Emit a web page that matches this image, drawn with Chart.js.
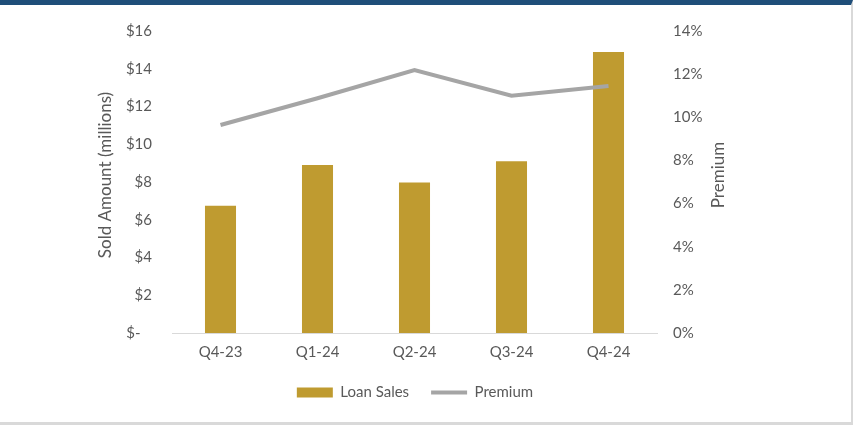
<!DOCTYPE html>
<html>
<head>
<meta charset="utf-8">
<script src="https://cdn.jsdelivr.net/npm/chart.js@4.4.1/dist/chart.umd.min.js"></script>
<style>
    html, body { margin: 0; padding: 0; background: #ffffff; }
    #frame {
        width: 853px;
        height: 425px;
        box-sizing: border-box;
        border-top: 5px solid #1f4e79;
        border-right: 2px solid #d9d9d9;
        border-bottom: 3px solid #d9d9d9;
        position: relative;
    }
    #chart { display: block; }
</style>
</head>
<body>
<div id="frame">
    <canvas id="chart" width="851" height="417"></canvas>
</div>
<script>
const categories = ['Q4-23', 'Q1-24', 'Q2-24', 'Q3-24', 'Q4-24'];
const loanSales = [6.74, 8.9, 7.98, 9.1, 14.89];
const premium = [9.64, 10.88, 12.19, 11.0, 11.45];

const textColor = '#595959';
const font = { family: 'Lato', size: 15 };

// axis titles drawn by hand so both read bottom-to-top like the original
const axisTitles = {
    id: 'axisTitles',
    afterDraw(chart) {
        const c = chart.ctx;
        const area = chart.chartArea;
        const midY = (area.top + area.bottom) / 2 - 7;
        c.save();
        c.fillStyle = textColor;
        c.font = '17px Lato';
        c.textAlign = 'center';
        c.textBaseline = 'middle';
        [[106, 'Sold Amount (millions)'], [719, 'Premium']].forEach(([x, t]) => {
            c.save();
            c.translate(x, midY);
            c.rotate(-Math.PI / 2);
            c.fillText(t, 0, 0);
            c.restore();
        });
        c.restore();
    }
};

// fixed widths, and no extra label padding pushing the plot down
const fitY = (w) => (s) => {
    s.width = w;
    s.paddingTop = 0;
    s.paddingBottom = 0;
};

new Chart(document.getElementById('chart'), {
    data: {
        labels: categories,
        datasets: [
            {
                type: 'line',
                label: 'Premium',
                data: premium,
                yAxisID: 'y1',
                borderColor: '#a5a5a5',
                backgroundColor: '#a5a5a5',
                borderWidth: 4,
                pointRadius: 0,
                pointStyle: 'line',
                tension: 0
            },
            {
                type: 'bar',
                label: 'Loan Sales',
                data: loanSales,
                yAxisID: 'y',
                backgroundColor: '#bf9b30',
                borderWidth: 0,
                pointStyle: 'rect',
                barPercentage: 0.32,
                categoryPercentage: 1
            }
        ]
    },
    options: {
        responsive: false,
        animation: false,
        layout: { padding: { top: 26, bottom: 12, left: 0, right: 21 } },
        plugins: {
            tooltip: { enabled: false },
            legend: {
                position: 'bottom',
                labels: {
                    color: textColor,
                    font: font,
                    usePointStyle: true,
                    pointStyleWidth: 36,
                    boxWidth: 36,
                    boxHeight: 10,
                    padding: 22,
                    sort: (a, b) => b.datasetIndex - a.datasetIndex
                }
            }
        },
        scales: {
            x: {
                grid: { display: false, drawTicks: false },
                border: { display: true, color: '#d9d9d9', width: 1 },
                ticks: { color: textColor, font: font, padding: 10 },
                afterFit: (s) => { s.height = 30; }
            },
            y: {
                position: 'left',
                min: 0,
                max: 16,
                grid: { display: false, drawTicks: false },
                border: { display: false },
                ticks: {
                    stepSize: 2,
                    color: textColor,
                    font: font,
                    padding: 20,
                    callback: (v) => v === 0 ? '$-   ' : '$' + v
                },
                afterFit: fitY(172)
            },
            y1: {
                position: 'right',
                min: 0,
                max: 14,
                grid: { display: false, drawTicks: false },
                border: { display: false },
                ticks: {
                    stepSize: 2,
                    color: textColor,
                    font: font,
                    padding: 16,
                    callback: (v) => v + '%'
                },
                afterFit: fitY(173)
            }
        }
    },
    plugins: [axisTitles]
});
</script>
</body>
</html>
